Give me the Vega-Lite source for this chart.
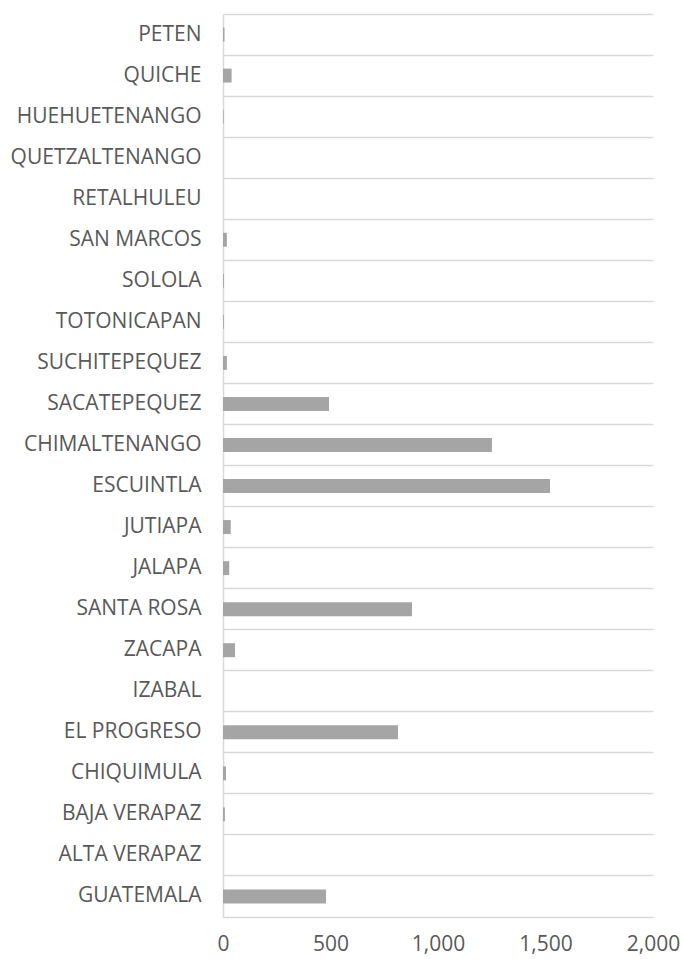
{
  "$schema": "https://vega.github.io/schema/vega-lite/v6.json",
  "autosize": {"type": "none"},
  "padding": {"left": 223, "top": 14, "right": 30, "bottom": 42},
  "width": 430,
  "height": 903,
  "background": "white",
  "view": {"stroke": null},
  "data": {
    "values": [
      {"depto": "PETEN\u2002", "valor": 7},
      {"depto": "QUICHE", "valor": 40},
      {"depto": "HUEHUETENANGO", "valor": 3},
      {"depto": "QUETZALTENANGO", "valor": 0},
      {"depto": "RETALHULEU", "valor": 0},
      {"depto": "SAN MARCOS\u2002", "valor": 18},
      {"depto": "SOLOLA\u2002", "valor": 4},
      {"depto": "TOTONICAPAN\u2002", "valor": 4},
      {"depto": "SUCHITEPEQUEZ\u2002", "valor": 18},
      {"depto": "SACATEPEQUEZ", "valor": 493},
      {"depto": "CHIMALTENANGO", "valor": 1251},
      {"depto": "ESCUINTLA\u2002", "valor": 1521},
      {"depto": "JUTIAPA", "valor": 36},
      {"depto": "JALAPA", "valor": 29},
      {"depto": "SANTA ROSA", "valor": 879},
      {"depto": "ZACAPA", "valor": 56},
      {"depto": "IZABAL", "valor": 0},
      {"depto": "EL PROGRESO\u2002", "valor": 814},
      {"depto": "CHIQUIMULA", "valor": 14},
      {"depto": "BAJA VERAPAZ", "valor": 9},
      {"depto": "ALTA VERAPAZ", "valor": 0},
      {"depto": "GUATEMALA", "valor": 479}
    ]
  },
  "mark": {"type": "bar", "color": "#A5A5A5", "height": {"band": 0.34}},
  "encoding": {
    "y": {
      "field": "depto",
      "type": "nominal",
      "sort": null,
      "title": null,
      "scale": {"paddingInner": 0, "paddingOuter": 0},
      "axis": {
        "bandPosition": 0,
        "grid": true,
        "gridColor": "#D9D9D9",
        "gridWidth": 1.5,
        "domainColor": "#D9D9D9",
        "domainWidth": 1.5,
        "ticks": false,
        "labelPadding": 22,
        "labelLimit": 400,
        "labelFont": "Open Sans",
        "labelFontSize": 21,
        "labelColor": "#595959"
      }
    },
    "x": {
      "field": "valor",
      "type": "quantitative",
      "title": null,
      "scale": {"domain": [0, 2000], "nice": false},
      "axis": {
        "values": [0, 500, 1000, 1500, 2000],
        "format": ",d",
        "grid": false,
        "domainColor": "#D9D9D9",
        "domainWidth": 1.5,
        "ticks": false,
        "labelPadding": 16,
        "labelFont": "Open Sans",
        "labelFontSize": 21,
        "labelColor": "#595959",
        "labelFlush": false,
        "labelOverlap": false
      }
    }
  }
}
